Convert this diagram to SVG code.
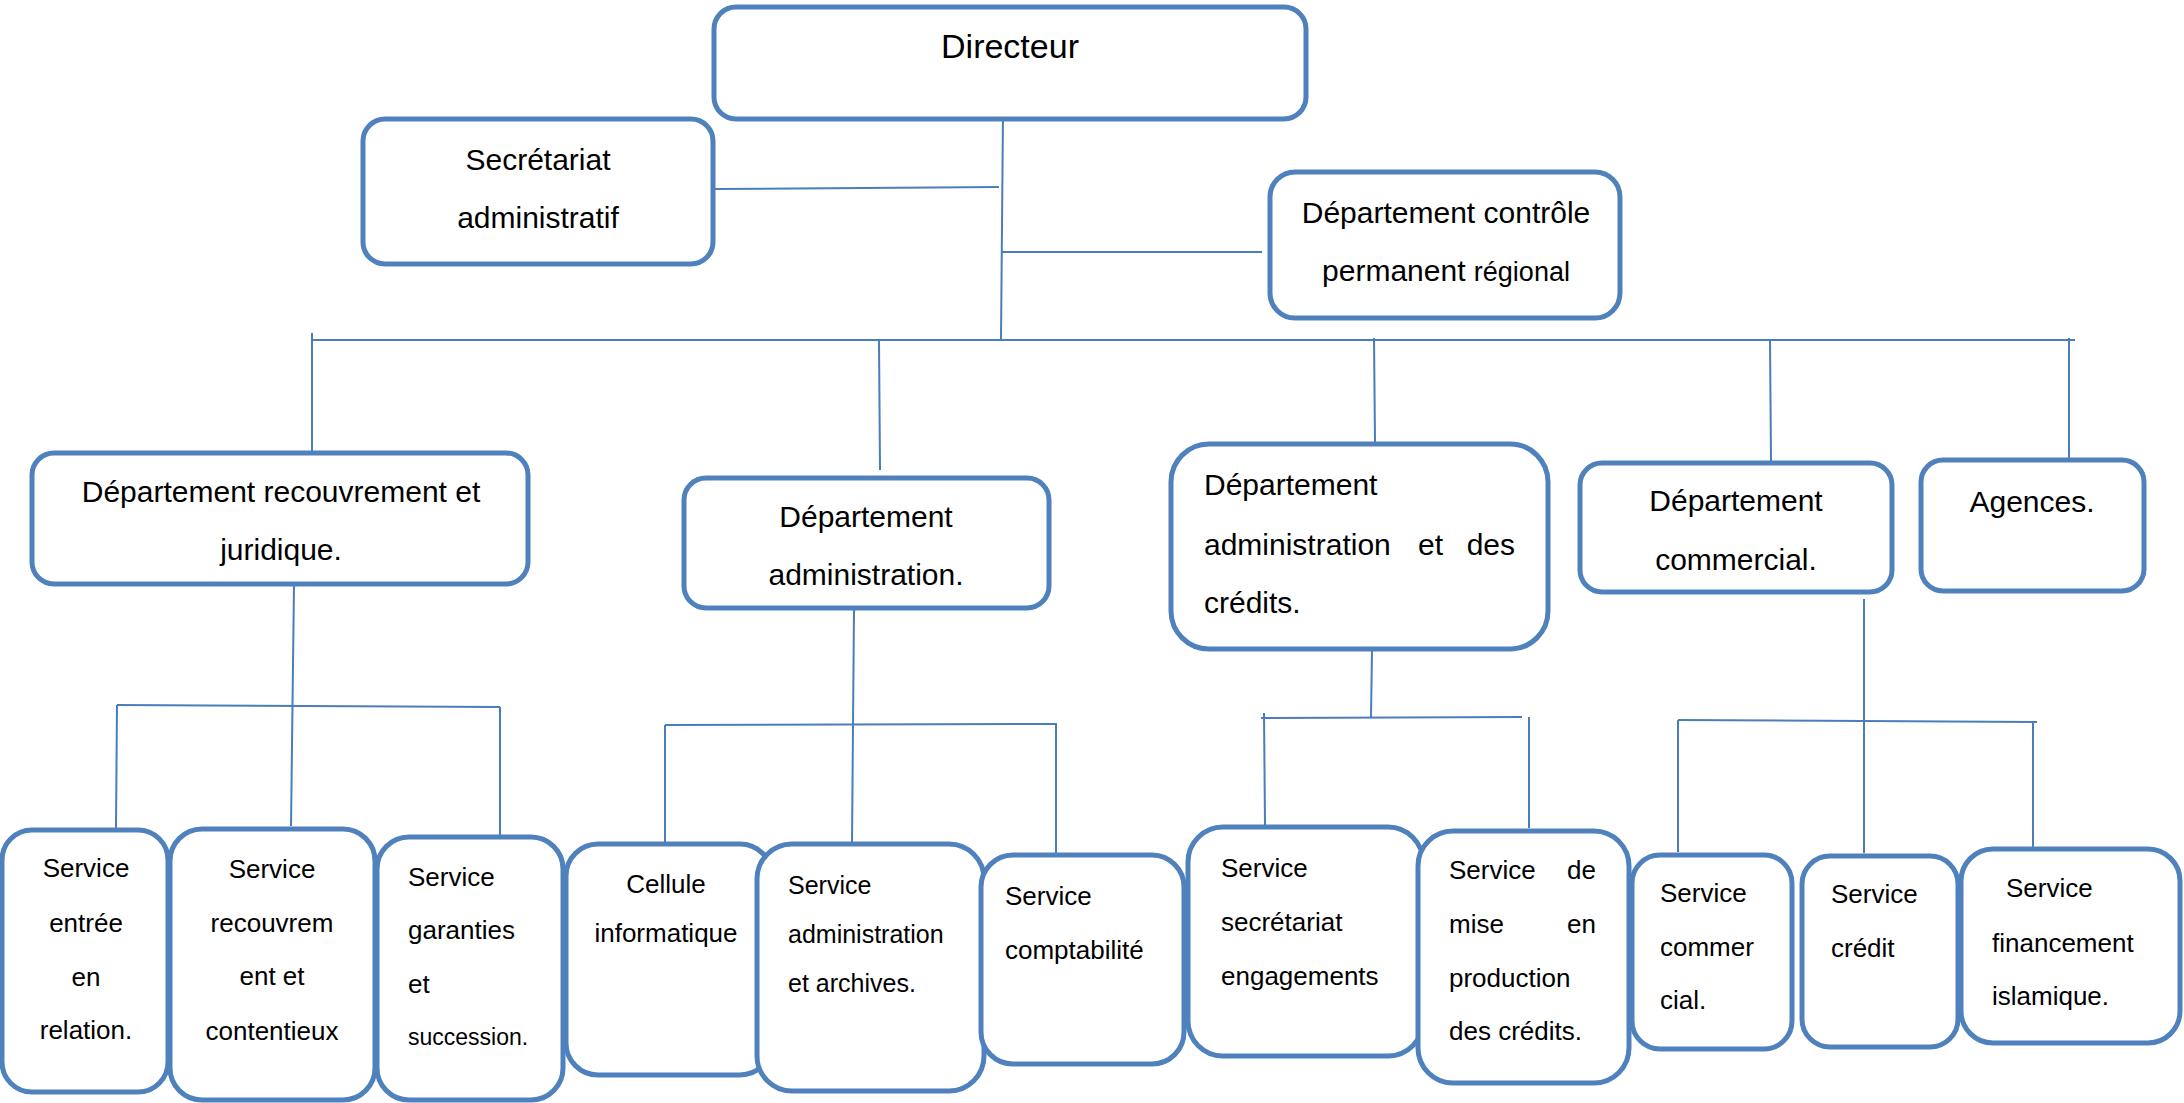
<svg xmlns="http://www.w3.org/2000/svg" width="2184" height="1103" viewBox="0 0 2184 1103">
<style>
.box{fill:#fff;stroke:#4F81BD;stroke-width:5}
.ln{stroke:#4A7EBB;stroke-width:2;fill:none}
text{font-family:"Liberation Sans",Arial,sans-serif;fill:#000}
.t1{font-size:34px}
.t2{font-size:30px}
.t3{font-size:26px}
.c{text-anchor:middle}
.e{text-anchor:end}
</style>
<rect width="2184" height="1103" fill="#fff"/>
<g id="connectors">
<line class="ln" x1="1003" y1="113" x2="1001" y2="340"/>
<line class="ln" x1="715" y1="189" x2="999" y2="187"/>
<line class="ln" x1="1002" y1="252" x2="1262" y2="252"/>
<line class="ln" x1="312" y1="340" x2="2075" y2="340"/>
<line class="ln" x1="312" y1="333" x2="312" y2="452"/>
<line class="ln" x1="879" y1="341" x2="880" y2="470"/>
<line class="ln" x1="1374" y1="338" x2="1375" y2="442"/>
<line class="ln" x1="1770" y1="340" x2="1771" y2="462"/>
<line class="ln" x1="2069" y1="338" x2="2069" y2="459"/>
<line class="ln" x1="294" y1="585" x2="291" y2="826"/>
<line class="ln" x1="117" y1="705" x2="500" y2="707"/>
<line class="ln" x1="117" y1="705" x2="116" y2="828"/>
<line class="ln" x1="500" y1="707" x2="500" y2="835"/>
<line class="ln" x1="854" y1="609" x2="852" y2="844"/>
<line class="ln" x1="665" y1="725" x2="1057" y2="724"/>
<line class="ln" x1="665" y1="725" x2="665" y2="843"/>
<line class="ln" x1="1056" y1="724" x2="1056" y2="854"/>
<line class="ln" x1="1372" y1="650" x2="1371" y2="717"/>
<line class="ln" x1="1261" y1="718" x2="1522" y2="717"/>
<line class="ln" x1="1264" y1="713" x2="1265" y2="825"/>
<line class="ln" x1="1529" y1="717" x2="1529" y2="828"/>
<line class="ln" x1="1864" y1="599" x2="1864" y2="853"/>
<line class="ln" x1="1678" y1="720" x2="2037" y2="722"/>
<line class="ln" x1="1678" y1="720" x2="1678" y2="852"/>
<line class="ln" x1="2033" y1="722" x2="2033" y2="847"/>
</g>
<g id="directeur"><rect class="box" x="714" y="7" width="592" height="112" rx="22"/><text class="t1 c" x="1010" y="58">Directeur</text></g>
<g id="secretariat"><rect class="box" x="363" y="119" width="350" height="145" rx="22"/><text class="t2 c" x="538" y="170">Secrétariat</text><text class="t2 c" x="538" y="228">administratif</text></g>
<g id="controle"><rect class="box" x="1270" y="172" width="350" height="146" rx="25"/><text class="t2 c" x="1446" y="223">Département contrôle</text><text class="t2 c" x="1446" y="281">permanent <tspan font-size="27">régional</tspan></text></g>
<g id="dep-recouvrement"><rect class="box" x="32" y="453" width="496" height="131" rx="22"/><text class="t2 c" x="281" y="502">Département recouvrement et</text><text class="t2 c" x="281" y="560">juridique.</text></g>
<g id="dep-administration"><rect class="box" x="684" y="478" width="365" height="130" rx="22"/><text class="t2 c" x="866" y="527">Département</text><text class="t2 c" x="866" y="585">administration.</text></g>
<g id="dep-credits"><rect class="box" x="1171" y="444" width="377" height="205" rx="38"/><text class="t2" x="1204" y="495">Département</text><text class="t2" x="1204" y="555">administration</text><text class="t2" x="1418" y="555">et</text><text class="t2 e" x="1515" y="555">des</text><text class="t2" x="1204" y="613">crédits.</text></g>
<g id="dep-commercial"><rect class="box" x="1580" y="463" width="312" height="129" rx="22"/><text class="t2 c" x="1736" y="511">Département</text><text class="t2 c" x="1736" y="570">commercial.</text></g>
<g id="agences"><rect class="box" x="1921" y="460" width="223" height="131" rx="22"/><text class="t2 c" x="2032" y="512">Agences.</text></g>
<g id="srv-entree"><rect class="box" x="2" y="830" width="166" height="262" rx="30"/><text class="t3 c" x="86" y="877">Service</text><text class="t3 c" x="86" y="932">entrée</text><text class="t3 c" x="86" y="986">en</text><text class="t3 c" x="86" y="1039">relation.</text></g>
<g id="srv-recouvrement"><rect class="box" x="170" y="829" width="205" height="271" rx="32"/><text class="t3 c" x="272" y="878">Service</text><text class="t3 c" x="272" y="932">recouvrem</text><text class="t3 c" x="272" y="985">ent et</text><text class="t3 c" x="272" y="1040">contentieux</text></g>
<g id="srv-garanties"><rect class="box" x="377" y="837" width="186" height="263" rx="32"/><text class="t3" x="408" y="886">Service</text><text class="t3" x="408" y="939">garanties</text><text class="t3" x="408" y="993">et</text><text font-size="23" x="408" y="1045">succession.</text></g>
<g id="cellule"><rect class="box" x="566" y="844" width="206" height="231" rx="32"/><text class="t3 c" x="666" y="893">Cellule</text><text class="t3 c" x="666" y="942">informatique</text></g>
<g id="srv-administration"><rect class="box" x="757" y="844" width="227" height="247" rx="35"/><text font-size="25" x="788" y="894">Service</text><text font-size="25" x="788" y="943">administration</text><text font-size="25" x="788" y="992">et archives.</text></g>
<g id="srv-comptabilite"><rect class="box" x="981" y="855" width="203" height="209" rx="32"/><text class="t3" x="1005" y="905">Service</text><text class="t3" x="1005" y="959">comptabilité</text></g>
<g id="srv-secretariat"><rect class="box" x="1188" y="827" width="235" height="229" rx="35"/><text class="t3" x="1221" y="877">Service</text><text class="t3" x="1221" y="931">secrétariat</text><text class="t3" x="1221" y="985">engagements</text></g>
<g id="srv-production"><rect class="box" x="1418" y="831" width="211" height="252" rx="35"/><text class="t3" x="1449" y="879">Service</text><text class="t3 e" x="1596" y="879">de</text><text class="t3" x="1449" y="933">mise</text><text class="t3 e" x="1596" y="933">en</text><text class="t3" x="1449" y="987">production</text><text class="t3" x="1449" y="1040">des crédits.</text></g>
<g id="srv-commercial"><rect class="box" x="1632" y="855" width="160" height="194" rx="28"/><text class="t3" x="1660" y="902">Service</text><text class="t3" x="1660" y="956">commer</text><text class="t3" x="1660" y="1009">cial.</text></g>
<g id="srv-credit"><rect class="box" x="1802" y="856" width="156" height="191" rx="28"/><text class="t3" x="1831" y="903">Service</text><text class="t3" x="1831" y="957">crédit</text></g>
<g id="srv-financement"><rect class="box" x="1961" y="849" width="219" height="194" rx="32"/><text class="t3" x="2006" y="897">Service</text><text class="t3" x="1992" y="952">financement</text><text class="t3" x="1992" y="1005">islamique.</text></g>
</svg>
